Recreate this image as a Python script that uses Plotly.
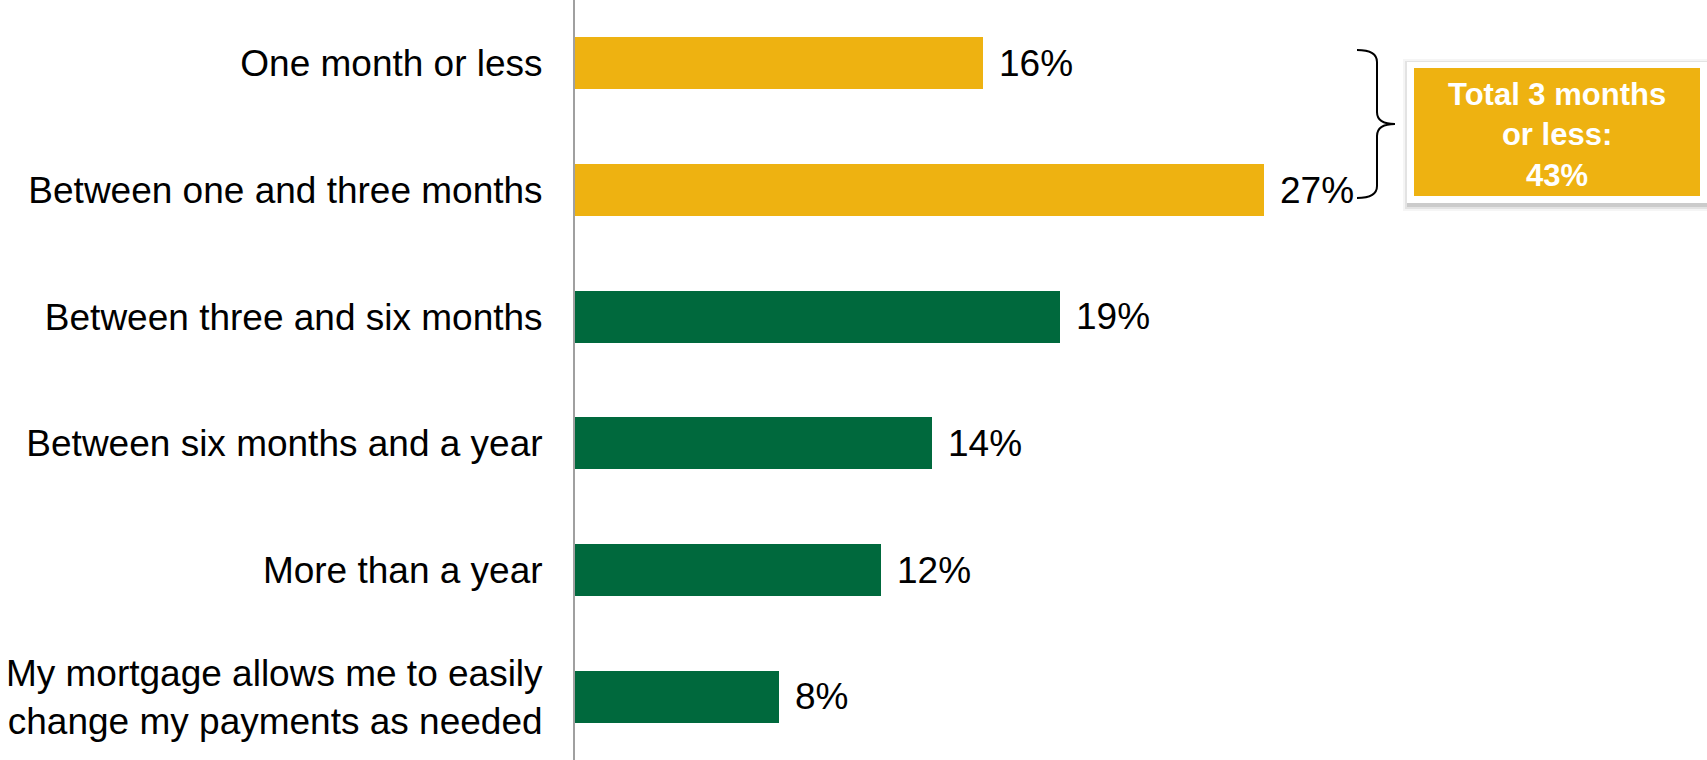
import plotly.graph_objects as go

# Survey responses: how long the household could keep paying the mortgage
categories = [
    "One month or less",
    "Between one and three months",
    "Between three and six months",
    "Between six months and a year",
    "More than a year",
    "My mortgage allows me to easily<br>change my payments as needed",
]
values = [16, 27, 19, 14, 12, 8]
short_term = [True, True, False, False, False, False]
callout_text = "Total 3 months<br>or less:<br>43%"

GOLD = "#EEB211"
GREEN = "#00693D"
FONT = "Liberation Sans, Arial, sans-serif"

W, H = 1707, 760
ML = 575  # left margin: plot area starts where the axis line is drawn


def px_x(x):
    return (x - ML) / (W - ML)


def px_y(y):
    return 1 - y / H


colors = [GOLD if s else GREEN for s in short_term]

fig = go.Figure(
    go.Bar(
        x=values,
        y=categories,
        orientation="h",
        marker=dict(color=colors, line=dict(width=0)),
        width=0.41,
        hoverinfo="skip",
    )
)

# value labels just past the end of each bar
for cat, v in zip(categories, values):
    fig.add_annotation(
        x=v, y=cat, xref="x", yref="y",
        text=f"{v}%", showarrow=False,
        xanchor="left", xshift=14,
        font=dict(family=FONT, size=37, color="#000000"),
    )

# curly brace grouping the two short-term answers
bx0, bs, bt = 1357, 1377, 1395
y_top, y_mid, y_bot = 50, 124, 198
pts = lambda x, y: f"{px_x(x):.5f},{px_y(y):.5f}"
brace = (
    f"M {pts(bx0, y_top)} Q {pts(bs, y_top)} {pts(bs, y_top + 12)} "
    f"L {pts(bs, y_mid - 12)} Q {pts(bs, y_mid)} {pts(bt, y_mid)} "
    f"Q {pts(bs, y_mid)} {pts(bs, y_mid + 12)} "
    f"L {pts(bs, y_bot - 12)} Q {pts(bs, y_bot)} {pts(bx0, y_bot)}"
)
fig.add_shape(type="path", path=brace, xref="paper", yref="paper",
              line=dict(color="#000000", width=2))

# callout box: soft drop shadow, white frame, gold panel
for d, a in [(6, 0.04), (4, 0.07), (2, 0.10)]:
    fig.add_shape(type="rect", xref="paper", yref="paper",
                  x0=px_x(1407 - d + 2), x1=px_x(1707 + d),
                  y0=px_y(62 - d + 3), y1=px_y(203 + d + 2),
                  fillcolor=f"rgba(0,0,0,{a})", line=dict(width=0), layer="above")
fig.add_shape(type="rect", xref="paper", yref="paper",
              x0=px_x(1407), x1=px_x(1707), y0=px_y(62), y1=px_y(203),
              fillcolor="#FFFFFF", line=dict(width=0), layer="above")
fig.add_shape(type="rect", xref="paper", yref="paper",
              x0=px_x(1414), x1=px_x(1700), y0=px_y(68), y1=px_y(196),
              fillcolor=GOLD, line=dict(width=0), layer="above")
fig.add_annotation(
    x=px_x(1557), y=px_y(135), xref="paper", yref="paper",
    text=f"<b>{callout_text}</b>", showarrow=False,
    xanchor="center", yanchor="middle", align="center",
    font=dict(family=FONT, size=31, color="#FFFFFF"),
)

fig.update_layout(
    width=W, height=H,
    margin=dict(l=ML, r=0, t=0, b=0),
    paper_bgcolor="#FFFFFF", plot_bgcolor="#FFFFFF",
    showlegend=False,
    bargap=0,
    xaxis=dict(range=[0, (W - ML) / 25.5], visible=False, fixedrange=True),
    yaxis=dict(
        categoryorder="array", categoryarray=categories,
        range=[5.5, -0.5],
        showline=True, linecolor="#A0A0A0", linewidth=2,
        showgrid=False, zeroline=False, ticks="",
        ticklabelstandoff=23,
        tickfont=dict(family=FONT, size=37, color="#000000"),
        fixedrange=True,
    ),
)

fig.write_html("out.html")
